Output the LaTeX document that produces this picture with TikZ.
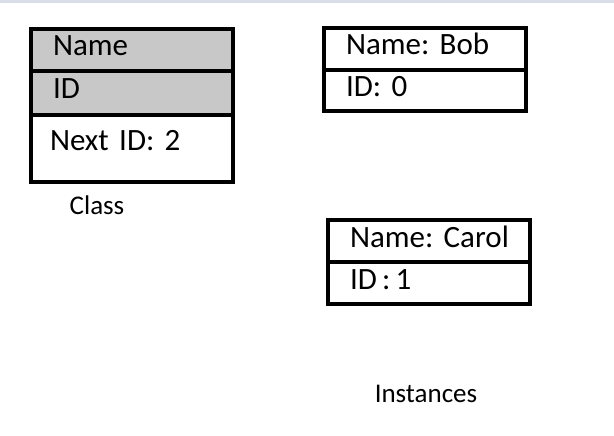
\documentclass[tikz,border=0pt]{standalone}
\usepackage{fontspec}
\setmainfont{Carlito}
\usepackage{xcolor}
\usetikzlibrary{positioning}
\definecolor{rowgray}{RGB}{200,200,200}
\definecolor{edgeband}{RGB}{218,222,232}
\frenchspacing

\begin{document}
\begin{tikzpicture}[
    x=1pt, y=-1pt,
    field/.style={rectangle, draw, line width=4pt, outer sep=0pt, inner xsep=22pt, inner ysep=0pt,
        text width=158pt, align=left, minimum height=42pt, text height=21pt, text depth=9pt,
        font=\fontsize{31}{35}\selectfont, anchor=north},
    caption/.style={font=\fontsize{27}{32}\selectfont}
]
\useasboundingbox (0,0) rectangle (614,436);
\fill[edgeband] (0,0) rectangle (614,3);

% Class box
\node[field, fill=rowgray, anchor=north west] (cname) at (31,29) {Name};
\node[field, fill=rowgray, below=0pt of cname, minimum height=44pt] (cid) {ID};
\node[field, below=0pt of cid, minimum height=67pt, text depth=18pt, inner xsep=19pt, text width=164pt] (cnext) {Next ID: 2};
\node[caption] (class) at (97,205) {Class};

% Instance: Bob
\node[field, anchor=north west] (bname) at (324,28) {Name: Bob};
\node[field, below=0pt of bname, minimum height=41pt] (bid) {ID: 0};

% Instance: Carol
\node[field, anchor=north west] (rname) at (328,220) {\mbox{Name: Carol}};
\node[field, below=0pt of rname] (rid) {ID\,:\,1};

\node[caption] (inst) at (426,394) {Instances};

\end{tikzpicture}
\end{document}
